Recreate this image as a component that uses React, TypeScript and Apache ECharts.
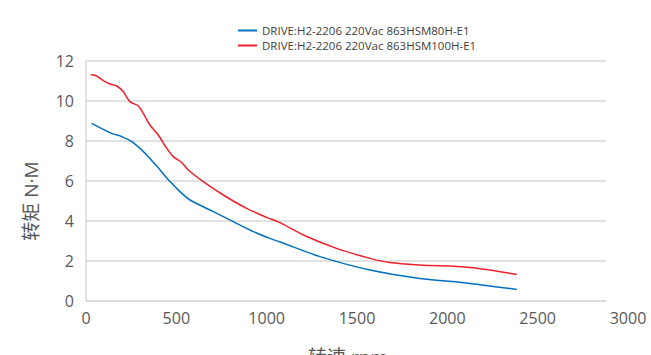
import React, { useEffect, useRef } from "react";
import * as echarts from "echarts";

const seriesNames = [
  "DRIVE:H2-2206 220Vac 863HSM80H-E1",
  "DRIVE:H2-2206 220Vac 863HSM100H-E1",
];
const blueSpeed = [31, 142, 198, 253, 299, 354, 410, 465, 520, 576, 705, 815, 926, 1018, 1074, 1295, 1572, 1848, 2125, 2384];
const blueTorque = [8.88, 8.38, 8.22, 7.97, 7.63, 7.13, 6.55, 5.97, 5.47, 5.05, 4.47, 3.97, 3.47, 3.13, 2.95, 2.22, 1.55, 1.13, 0.88, 0.58];
const redSpeed = [26, 59, 96, 133, 170, 206, 243, 290, 317, 354, 400, 447, 483, 530, 566, 649, 760, 889, 1000, 1074, 1203, 1387, 1572, 1682, 1848, 2125, 2384];
const redTorque = [11.32, 11.25, 11.02, 10.85, 10.75, 10.47, 9.97, 9.75, 9.38, 8.8, 8.3, 7.63, 7.22, 6.92, 6.55, 5.97, 5.3, 4.63, 4.18, 3.92, 3.3, 2.63, 2.13, 1.92, 1.8, 1.68, 1.33];
const xTicks = { min: 0, max: 3000, interval: 500 };
const yTicks = { min: 0, max: 12, interval: 2 };
const yAxisTitle = "转矩 N·M";
const xAxisTitle = "转速 rpm";

const FONT = "'Open Sans', 'Noto Sans CJK SC', sans-serif";

export default function App() {
  const ref = useRef<HTMLDivElement>(null);
  useEffect(() => {
    if (!ref.current) return;
    const chart = echarts.init(ref.current, undefined, { renderer: "svg" });
    const zip = (xs: number[], ys: number[]) => xs.map((x, i) => [x, ys[i]]);
    chart.setOption({
      animation: false,
      backgroundColor: "#ffffff",
      grid: { left: 86, right: 23, top: 61, bottom: 54, containLabel: false },
      legend: {
        orient: "vertical",
        left: 233,
        top: 18,
        itemWidth: 19,
        itemHeight: 2,
        itemGap: 0,
        icon: "rect",
        textStyle: { fontSize: 11.5, color: "#404040", fontFamily: FONT, lineHeight: 15 },
        data: seriesNames,
      },
      xAxis: {
        type: "value",
        min: xTicks.min,
        max: xTicks.max,
        interval: xTicks.interval,
        axisLine: { show: true, lineStyle: { color: "#d9d9d9", width: 1.5 } },
        axisTick: { show: false },
        splitLine: { show: false },
        axisLabel: {
          fontSize: 16,
          color: "#595959",
          fontFamily: FONT,
          margin: 9,
          formatter: (v: number) => String(v),
        },
      },
      yAxis: {
        type: "value",
        min: yTicks.min,
        max: yTicks.max,
        interval: yTicks.interval,
        axisLine: { show: true, lineStyle: { color: "#d9d9d9", width: 1.5 } },
        axisTick: { show: false },
        splitLine: { show: true, lineStyle: { color: "#d9d9d9", width: 1.5 } },
        axisLabel: {
          fontSize: 16,
          color: "#595959",
          fontFamily: FONT,
          margin: 12,
          formatter: (v: number) => String(v),
        },
      },
      graphic: [
        {
          type: "rect",
          z: 100,
          shape: { x: 606, y: 50, width: 40, height: 254 },
          style: { fill: "#ffffff" },
        },
        {
          type: "text",
          z: 101,
          x: 31,
          y: 201,
          rotation: Math.PI / 2,
          style: {
            text: yAxisTitle,
            fontSize: 19,
            fill: "#595959",
            fontFamily: FONT,
            align: "center",
            verticalAlign: "middle",
          },
        },
        {
          type: "text",
          z: 101,
          x: 348,
          y: 347,
          style: {
            text: xAxisTitle,
            fontSize: 19,
            fill: "#595959",
            fontFamily: FONT,
            align: "center",
            verticalAlign: "top",
          },
        },
      ],
      series: [
        {
          name: seriesNames[0],
          type: "line",
          data: zip(blueSpeed, blueTorque),
          showSymbol: false,
          smooth: 0.3,
          lineStyle: { color: "#0070C0", width: 1.5 },
          itemStyle: { color: "#0070C0" },
        },
        {
          name: seriesNames[1],
          type: "line",
          data: zip(redSpeed, redTorque),
          showSymbol: false,
          smooth: 0.3,
          lineStyle: { color: "#F0202A", width: 1.5 },
          itemStyle: { color: "#F0202A" },
        },
      ],
    });
    return () => chart.dispose();
  }, []);
  return <div ref={ref} style={{ width: 651, height: 355, position: "absolute", left: 0, top: 0 }} />;
}
